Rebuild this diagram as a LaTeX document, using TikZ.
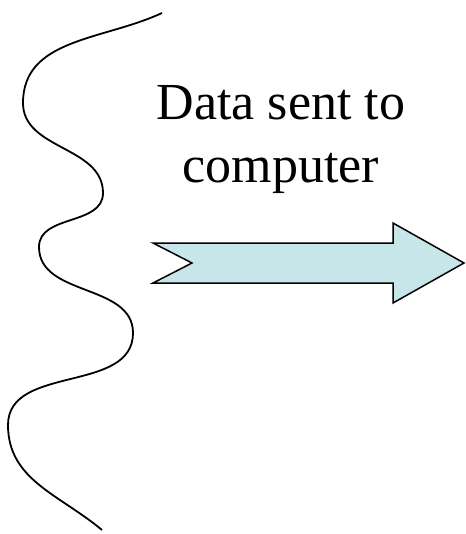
\documentclass[tikz,border=0pt]{standalone}
\usepackage{fontspec}
\setmainfont{Liberation Serif}
\definecolor{arrowfill}{HTML}{C6E6EA}
\tikzset{
  wave/.style={line width=1.8pt, black},
  bigarrow/.style={draw=black, line width=1.5pt, fill=arrowfill, line join=miter},
  label/.style={align=center, inner sep=0pt, font=\fontsize{52}{63}\selectfont}
}
\begin{document}
\begin{tikzpicture}[x=1pt,y=1pt]
\useasboundingbox (0,0) rectangle (465,-534);
% wavy line
\coordinate (w0) at (162,-13);
\coordinate (w1) at (23,-103);
\coordinate (w2) at (103,-193);
\coordinate (w3) at (39,-247);
\coordinate (w4) at (133,-333);
\coordinate (w5) at (8,-425);
\coordinate (w6) at (102,-530);
\draw[wave] (w0) to[out=205,in=90] (w1) to[out=-90,in=90] (w2)
  to[out=-90,in=90] (w3) to[out=-90,in=90] (w4)
  to[out=-90,in=90] (w5) to[out=-90,in=140] (w6);
% block arrow
\draw[bigarrow] (153,-243) -- (192,-263) -- (153,-283) -- (393,-283)
  -- (393,-303) -- (464,-263) -- (393,-223) -- (393,-243) -- cycle;
% text
\node[label] (txt) at (281,-140) {Data sent to\\computer};
\end{tikzpicture}
\end{document}
